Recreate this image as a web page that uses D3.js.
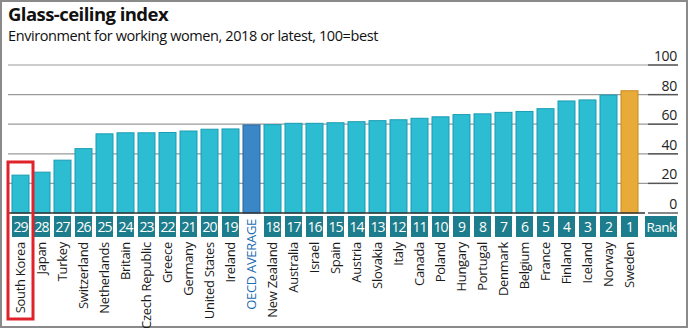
<!DOCTYPE html>
<html>
<head>
<meta charset="utf-8">
<script src="https://cdn.jsdelivr.net/npm/d3@7"></script>
<style>
  body { margin: 0; background: #fff; }
  svg { display: block; font-family: "Open Sans", sans-serif; }
</style>
</head>
<body>
<svg id="chart" width="688" height="328"></svg>
<script>
// Data
const countries = ["South Korea", "Japan", "Turkey", "Switzerland", "Netherlands", "Britain",
  "Czech Republic", "Greece", "Germany", "United States", "Ireland", "OECD AVERAGE",
  "New Zealand", "Australia", "Israel", "Spain", "Austria", "Slovakia", "Italy", "Canada",
  "Poland", "Hungary", "Portugal", "Denmark", "Belgium", "France", "Finland", "Iceland",
  "Norway", "Sweden"];
const scores = [25.6, 27.6, 35.7, 43.5, 53.5, 54.2, 54.2, 54.4, 55.4, 56.6, 56.8, 59.5,
  59.7, 60.6, 60.6, 61, 61.7, 62.4, 63, 64, 65, 66.5, 67, 68, 68.6, 70.5, 75.7, 76.4,
  79.7, 82.6];
const ranks = [29, 28, 27, 26, 25, 24, 23, 22, 21, 20, 19, null, 18, 17, 16, 15, 14, 13,
  12, 11, 10, 9, 8, 7, 6, 5, 4, 3, 2, 1];
const yTicks = [0, 20, 40, 60, 80, 100];

const svg = d3.select("#chart");

// frame
svg.append("rect")
  .attr("x", 1).attr("y", 1).attr("width", 686).attr("height", 326)
  .attr("fill", "#fff").attr("stroke", "#8a8a8a").attr("stroke-width", 2);

// titles
svg.append("text")
  .attr("x", 8).attr("y", 21)
  .style("font-size", "18.5px").style("font-weight", "700")
  .style("letter-spacing", "-0.55px")
  .attr("fill", "#111")
  .text("Glass-ceiling index");
svg.append("text")
  .attr("x", 8).attr("y", 41)
  .style("font-size", "14.5px")
  .style("letter-spacing", "-0.4px")
  .attr("fill", "#111")
  .text("Environment for working women, 2018 or latest, 100=best");

const x = d3.scaleBand()
  .domain(countries)
  .range([10, 640])
  .paddingInner(0.19)
  .paddingOuter(0.095);

const y = d3.scaleLinear().domain([0, 100]).range([213, 65]);

// gridlines
const grid = svg.append("g");
grid.selectAll("line.grid")
  .data(yTicks.filter(d => d > 0))
  .enter().append("line")
  .attr("class", "grid")
  .attr("x1", 8).attr("x2", 678)
  .attr("y1", d => y(d)).attr("y2", d => y(d))
  .attr("stroke", "#9a9a9a").attr("stroke-width", 1.2);
grid.selectAll("line.tick")
  .data(yTicks)
  .enter().append("line")
  .attr("class", "tick")
  .attr("x1", 648).attr("x2", 678)
  .attr("y1", d => y(d)).attr("y2", d => y(d))
  .attr("stroke", "#555").attr("stroke-width", 1.4);
grid.selectAll("text")
  .data(yTicks)
  .enter().append("text")
  .attr("x", 677).attr("y", d => y(d) - 4)
  .attr("text-anchor", "end")
  .style("font-size", "14px")
  .style("letter-spacing", "-0.3px")
  .attr("fill", "#222")
  .text(d => d);

// bars
svg.append("g").selectAll("rect")
  .data(countries)
  .enter().append("rect")
  .attr("x", d => x(d))
  .attr("y", (d, i) => y(scores[i]))
  .attr("width", x.bandwidth())
  .attr("height", (d, i) => y(0) - y(scores[i]))
  .attr("fill", d => d === "Sweden" ? "#e8aa38" : d === "OECD AVERAGE" ? "#3b86c6" : "#2dbdd3")
  .attr("stroke", d => d === "Sweden" ? "#c88a20" : d === "OECD AVERAGE" ? "#2766a0" : "#1a9db3")
  .attr("stroke-width", 1);

// zero line
svg.append("line")
  .attr("x1", 8).attr("x2", 645)
  .attr("y1", y(0)).attr("y2", y(0))
  .attr("stroke", "#333").attr("stroke-width", 1.4);

// rank boxes
const rankRow = svg.append("g");
countries.forEach((c, i) => {
  if (ranks[i] === null) return;
  rankRow.append("rect")
    .attr("x", x(c)).attr("y", 216)
    .attr("width", x.bandwidth()).attr("height", 21)
    .attr("fill", "#1d7d8c");
  rankRow.append("text")
    .attr("x", x(c) + x.bandwidth() / 2).attr("y", 232)
    .attr("text-anchor", "middle")
    .style("font-size", "14px")
    .style("letter-spacing", "-1px")
    .attr("fill", "#fff")
    .text(ranks[i]);
});
rankRow.append("rect")
  .attr("x", 645).attr("y", 216).attr("width", 32).attr("height", 21)
  .attr("fill", "#1d7d8c");
rankRow.append("text")
  .attr("x", 661).attr("y", 232)
  .attr("text-anchor", "middle")
  .style("font-size", "13.5px")
  .style("letter-spacing", "-0.6px")
  .attr("fill", "#fff")
  .text("Rank");

// country labels
svg.append("g").selectAll("text")
  .data(countries)
  .enter().append("text")
  .attr("transform", d => {
    const cx = x(d) + x.bandwidth() / 2;
    const top = d === "OECD AVERAGE" ? 219 : 242;
    return `translate(${cx + 4.8},${top}) rotate(-90)`;
  })
  .attr("text-anchor", "end")
  .style("font-size", "13px")
  .style("letter-spacing", "-0.3px")
  .attr("fill", d => d === "OECD AVERAGE" ? "#1c6cb2" : "#1a1a1a")
  .text(d => d);

// red highlight around South Korea
svg.append("rect")
  .attr("x", 8).attr("y", 162).attr("width", 25).attr("height", 157)
  .attr("fill", "none")
  .attr("stroke", "#e0222b").attr("stroke-width", 3);
</script>
</body>
</html>
